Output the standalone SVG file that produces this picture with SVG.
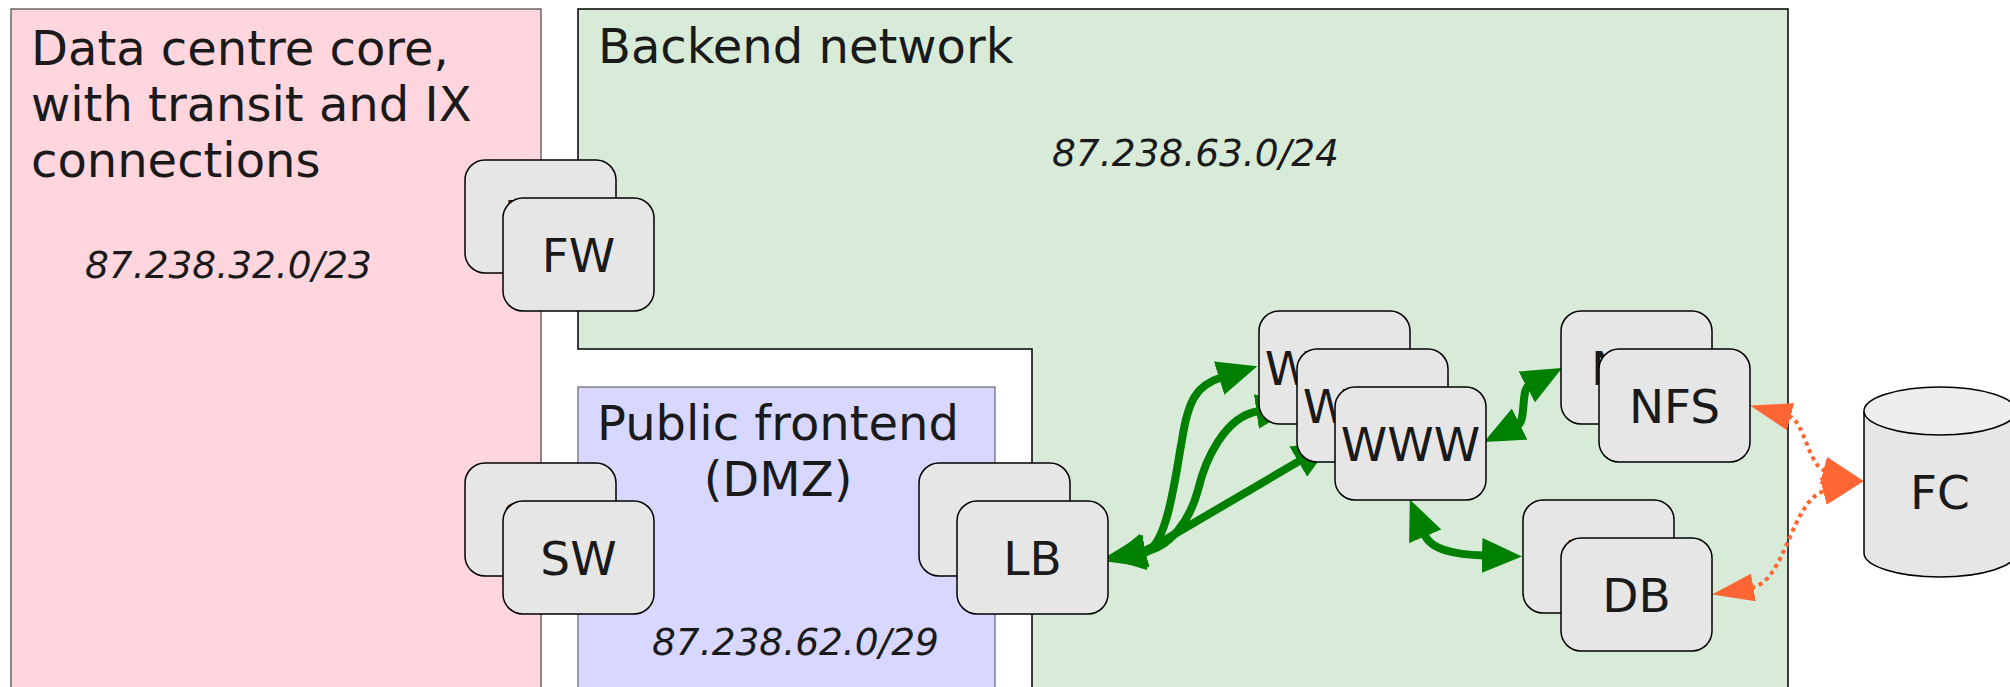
<svg xmlns="http://www.w3.org/2000/svg" width="2010" height="687" viewBox="0 0 2010 687">
<style>
text{font-family:"DejaVu Sans","Liberation Sans",sans-serif;fill:#1a1a1a}
.h{font-size:48px}
.ip{font-size:37.5px;font-style:italic}
.n rect{fill:#e6e6e6;stroke:#000;stroke-width:1.5}
.n text{font-size:47px;text-anchor:middle}
.g{fill:none;stroke:#008000;stroke-width:8;marker-start:url(#ga);marker-end:url(#ga)}
.o{fill:none;stroke:#ff6633;stroke-width:4;stroke-dasharray:4 4;marker-start:url(#oa);marker-end:url(#oa)}
</style>
<defs>
<marker id="ga" markerUnits="userSpaceOnUse" viewBox="0 0 40 35" markerWidth="40" markerHeight="35" refX="2" refY="17.5" orient="auto-start-reverse"><path d="M0,0 L40,17.5 L0,35 Z" fill="#008000"/></marker>
<marker id="oa" markerUnits="userSpaceOnUse" viewBox="0 0 42 28" markerWidth="42" markerHeight="28" refX="2" refY="14" orient="auto-start-reverse"><path d="M0,0 L42,14 L0,28 Z" fill="#ff6633"/></marker>
</defs>
<rect width="2010" height="687" fill="#fff"/>
<g id="core">
<rect x="11" y="9" width="530" height="690" fill="#ffd5de" stroke="#444" stroke-width="1.2"/>
<text class="h" x="31" y="65">Data centre core,</text>
<text class="h" x="31" y="121">with transit and IX</text>
<text class="h" x="31" y="177">connections</text>
<text class="ip" x="85" y="278">87.238.32.0/23</text>
</g>
<g id="backend">
<path d="M578,9 H1788 V700 H1032 V349 H578 Z" fill="#d8ebd8" stroke="#000" stroke-width="1.5"/>
<text class="h" x="598" y="63">Backend network</text>
<text class="ip" x="1052" y="166">87.238.63.0/24</text>
</g>
<g id="dmz">
<rect x="578" y="387" width="417" height="320" fill="#d7d7ff" stroke="#666" stroke-width="1.2"/>
<text class="h" x="778" y="440" text-anchor="middle">Public frontend</text>
<text class="h" x="778" y="496" text-anchor="middle">(DMZ)</text>
<text class="ip" x="652" y="655">87.238.62.0/29</text>
</g>
<g id="connectors">
<path class="g" d="M1143,551 C1150,549 1156,545 1163,541 L1300,460.6"/>
<path class="g" d="M1143,553 C1168,550 1176,470 1182,440 C1188,400 1197,385 1221,377.5"/>
<path class="g" d="M1143,552 C1170,548 1190,520 1198,490 C1205,460 1225,416 1258.4,411.2"/>
<path class="g" d="M1518,425 C1526,421 1521,390 1528.5,386"/>
<path class="g" d="M1424.5,534.5 C1431,550 1455,554.7 1484,555.5"/>
<path class="o" d="M1788.6,416.1 C1805,420.6 1808,466.3 1825.3,470.9"/>
<path class="o" d="M1751.4,587.8 C1786,581.9 1791.3,499.2 1825.2,490.7"/>
</g>
<g id="FW" class="n">
<g transform="translate(465,160)"><rect width="151" height="113" rx="20"/><text x="75.5" y="74">FW</text></g>
<g transform="translate(503,198)"><rect width="151" height="113" rx="20"/><text x="75.5" y="74">FW</text></g>
</g>
<g id="SW" class="n">
<g transform="translate(465,463)"><rect width="151" height="113" rx="20"/><text x="75.5" y="74">SW</text></g>
<g transform="translate(503,501)"><rect width="151" height="113" rx="20"/><text x="75.5" y="74">SW</text></g>
</g>
<g id="LB" class="n">
<g transform="translate(919,463)"><rect width="151" height="113" rx="20"/><text x="75.5" y="74">LB</text></g>
<g transform="translate(957,501)"><rect width="151" height="113" rx="20"/><text x="75.5" y="74">LB</text></g>
</g>
<g id="WWW" class="n">
<g transform="translate(1259,311)"><rect width="151" height="113" rx="20"/><text x="75.5" y="74">WWW</text></g>
<g transform="translate(1297,349)"><rect width="151" height="113" rx="20"/><text x="75.5" y="74">WWW</text></g>
<g transform="translate(1335,387)"><rect width="151" height="113" rx="20"/><text x="75.5" y="74">WWW</text></g>
</g>
<g id="NFS" class="n">
<g transform="translate(1561,311)"><rect width="151" height="113" rx="20"/><text x="75.5" y="74">NFS</text></g>
<g transform="translate(1599,349)"><rect width="151" height="113" rx="20"/><text x="75.5" y="74">NFS</text></g>
</g>
<g id="DB" class="n">
<g transform="translate(1523,500)"><rect width="151" height="113" rx="20"/><text x="75.5" y="74">DB</text></g>
<g transform="translate(1561,538)"><rect width="151" height="113" rx="20"/><text x="75.5" y="74">DB</text></g>
</g>
<g id="FC">
<path d="M1864,411 V553 A76,24 0 0 0 2016,553 V411" fill="#e6e6e6" stroke="#000" stroke-width="1.5"/>
<ellipse cx="1940" cy="411" rx="76" ry="24" fill="#eeeeee" stroke="#000" stroke-width="1.5"/>
<text x="1940" y="509" font-size="47" text-anchor="middle">FC</text>
</g>
</svg>
